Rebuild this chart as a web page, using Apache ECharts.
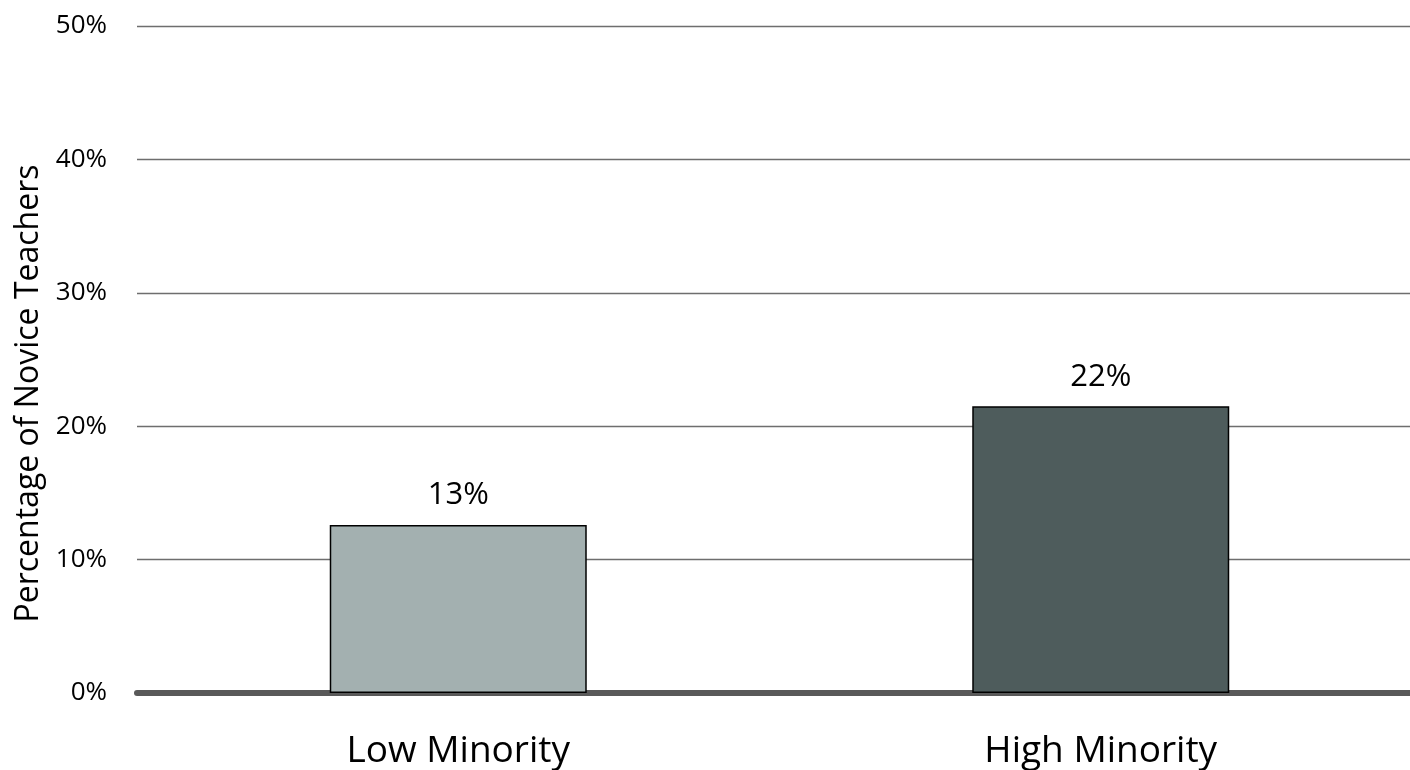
<!DOCTYPE html>
<html><head><meta charset="utf-8">
<script src="https://cdn.jsdelivr.net/npm/echarts@6/dist/echarts.min.js"></script>
<style>html,body{margin:0;padding:0;background:#fff}#c{width:1410px;height:770px}</style>
</head><body><div id="c"></div>
<script>
const categories = ['Low Minority', 'High Minority'];
const values = [12.6, 21.5];
const labels = ['13%', '22%'];
const barColors = ['#A3B0B0', '#4E5C5C'];
const yTicks = [0, 10, 20, 30, 40, 50];

const chart = echarts.init(document.getElementById('c'));
const F = '"Open Sans", "Noto Sans", sans-serif';
chart.setOption({
  animation: false,
  grid: {left: 137, right: -12, top: 26, bottom: 77, outerBoundsMode: 'none', containLabel: false},
  xAxis: {
    type: 'category', data: categories,
    axisLine: {lineStyle: {color: '#595959', width: 6}},
    axisTick: {show: false},
    axisLabel: {color: '#000', fontFamily: F, fontSize: 37, margin: 40}
  },
  yAxis: {
    type: 'value', min: 0, max: 50, interval: 10,
    name: 'Percentage of Novice Teachers', nameLocation: 'middle', nameGap: 89,
    nameTextStyle: {color: '#000', fontFamily: F, fontSize: 32, padding: [0, 68, 0, 0]},
    axisLine: {show: false}, axisTick: {show: false},
    axisLabel: {color: '#000', fontFamily: F, fontSize: 26, margin: 30,
      formatter: v => yTicks.includes(v) ? v + '%' : ''},
    splitLine: {lineStyle: {color: '#6e6e6e', width: 1.3}}
  },
  series: [{
    type: 'bar', barWidth: '40%',
    data: values.map((v, i) => ({value: v, itemStyle: {color: barColors[i]}})),
    itemStyle: {borderColor: '#000', borderWidth: 1.5},
    label: {show: true, position: 'top', distance: 14, color: '#000', fontFamily: F, fontSize: 31,
      formatter: p => labels[p.dataIndex]}
  }]
});
</script></body></html>
